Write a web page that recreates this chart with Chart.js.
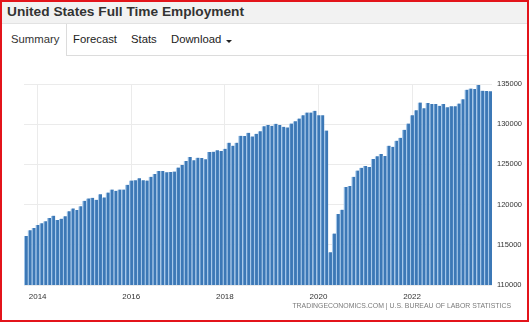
<!DOCTYPE html>
<html>
<head>
<meta charset="utf-8">
<script src="https://cdn.jsdelivr.net/npm/chart.js@4/dist/chart.umd.min.js"></script>
<style>
  html, body { margin: 0; padding: 0; background: #fff; }
  body { width: 529px; height: 322px; overflow: hidden; font-family: "Liberation Sans", Arial, sans-serif; }
  #frame { position: relative; width: 529px; height: 322px; box-sizing: border-box; border: 2px solid #e3141b; overflow: hidden; }
  #titulo { position: absolute; left: 0; top: 0; right: 0; height: 21px; background: #f2f2f2; border-bottom: 1px solid #e2e2e2;
            font-weight: bold; font-size: 13.7px; color: #333; line-height: 20px; padding-left: 5px; }
  .tab { position: absolute; top: 31px; font-size: 11.3px; color: #222; }
  #tabSummary { position: absolute; left: 0; top: 22px; width: 64px; height: 32px; border-right: 1px solid #dcdcdc; }
  #lineaTabs { position: absolute; left: 64px; right: 0; top: 53px; height: 1px; background: #dcdcdc; }
  .caret { position: absolute; left: 224px; top: 38px; width: 0; height: 0; border-left: 3px solid transparent;
           border-right: 3px solid transparent; border-top: 3px solid #222; }
  #grafico { position: absolute; left: -2px; top: 68px; }
  #fuente { position: absolute; right: 16px; top: 300px; font-size: 6.9px; color: #7a7a7a; letter-spacing: 0; }
</style>
</head>
<body>
<div id="frame">
  <div id="titulo">United States Full Time Employment</div>
  <div id="tabSummary"></div>
  <div id="lineaTabs"></div>
  <div class="tab" style="left:9px;color:#333">Summary</div>
  <div class="tab" style="left:71px">Forecast</div>
  <div class="tab" style="left:129px">Stats</div>
  <div class="tab" style="left:169px">Download</div>
  <div class="caret"></div>
  <canvas id="grafico" width="529" height="235"></canvas>
  <div id="fuente">TRADINGECONOMICS.COM | U.S. BUREAU OF LABOR STATISTICS</div>
</div>
<script>
// primera observación: octubre 2013, mensual hasta septiembre 2023
const anioInicio = 2013;
const mesInicio = 10;
const meses = ['Jan', 'Feb', 'Mar', 'Apr', 'May', 'Jun', 'Jul', 'Aug', 'Sep', 'Oct', 'Nov', 'Dec'];

// miles de personas con empleo a tiempo completo
const empleo = [
    116100, 116800, 117090,
    117460, 117670, 117920, 118330, 118620, 118080, 118250, 118540, 119160, 119530, 119320, 119810,
    120480, 120770, 120850, 120600, 121280, 120890, 121510, 121880, 121720, 121880, 121880, 122460,
    123000, 123040, 123290, 123040, 123000, 123450, 123820, 124190, 124190, 124030, 124070, 124110,
    124610, 124940, 125430, 125930, 125510, 125840, 125800, 125630, 126540, 126580, 126750, 126670,
    126950, 127700, 127330, 127700, 128560, 128520, 128940, 128480, 128810, 129120, 129760, 129890,
    129800, 130050, 129890, 129680, 129600, 130090, 130380, 130710, 131100, 131450, 131450, 131660,
    131100, 131100, 129220, 114080, 116400, 118830, 119370, 122190, 122310, 123450, 124230, 124570,
    124810, 124690, 125680, 126000, 126300, 126050, 127330, 127200, 127950, 128320, 129310, 130090,
    131100, 131720, 132690, 131990, 132650, 132520, 132520, 132280, 132520, 132120, 132240, 132240,
    132570, 133110, 134300, 134430, 134390, 134880, 134170, 134130, 134090
];

const aniosEtiqueta = [2014, 2016, 2018, 2020, 2022];
const ticksY = [110000, 115000, 120000, 125000, 130000, 135000];

const etiquetas = [];
const anioDe = [];
const mesDe = [];
for (let i = 0; i < empleo.length; i++) {
    const m = (mesInicio - 1 + i) % 12;
    const a = anioInicio + Math.floor((mesInicio - 1 + i) / 12);
    etiquetas.push(meses[m] + ' ' + a);
    anioDe.push(a);
    mesDe.push(m);
}

function esTickAnio(i) {
    return mesDe[i] === 0 && aniosEtiqueta.includes(anioDe[i]);
}

const ctx = document.getElementById('grafico').getContext('2d');
new Chart(ctx, {
    type: 'bar',
    data: {
        labels: etiquetas,
        datasets: [{
            label: 'Full Time Employment',
            data: empleo,
            backgroundColor: '#3c78b6',
            borderColor: '#a6c8ea',
            borderWidth: {left: 1.3, right: 0, top: 0, bottom: 0},
            borderSkipped: false,
            barPercentage: 1,
            categoryPercentage: 1
        }]
    },
    options: {
        responsive: false,
        animation: false,
        layout: {padding: {left: 24, top: 14, right: 0, bottom: 0}},
        plugins: {
            legend: {display: false},
            tooltip: {enabled: false}
        },
        scales: {
            x: {
                offset: true,
                afterFit: function (scale) { scale.height = 20; },
                grid: {
                    offset: false,
                    drawTicks: false,
                    drawOnChartArea: true,
                    color: function (c) {
                        return (c.tick && esTickAnio(c.tick.value)) ? '#ebebeb' : 'rgba(0,0,0,0)';
                    }
                },
                border: {display: false},
                ticks: {
                    autoSkip: false,
                    maxRotation: 0,
                    padding: 7,
                    color: '#333',
                    font: {family: 'Liberation Sans', size: 8},
                    callback: function (val, i) {
                        return esTickAnio(i) ? String(anioDe[i]) : '';
                    }
                }
            },
            y: {
                position: 'right',
                min: 110000,
                max: 135000,
                afterFit: function (scale) { scale.width = 37; },
                afterBuildTicks: function (scale) {
                    scale.ticks = ticksY.map(v => ({value: v}));
                },
                grid: {color: '#ebebeb', drawTicks: false},
                border: {display: false},
                ticks: {
                    padding: 5,
                    color: '#333',
                    font: {family: 'Liberation Sans', size: 7.5},
                    callback: function (v) { return String(v); }
                }
            }
        }
    }
});
</script>
</body>
</html>
